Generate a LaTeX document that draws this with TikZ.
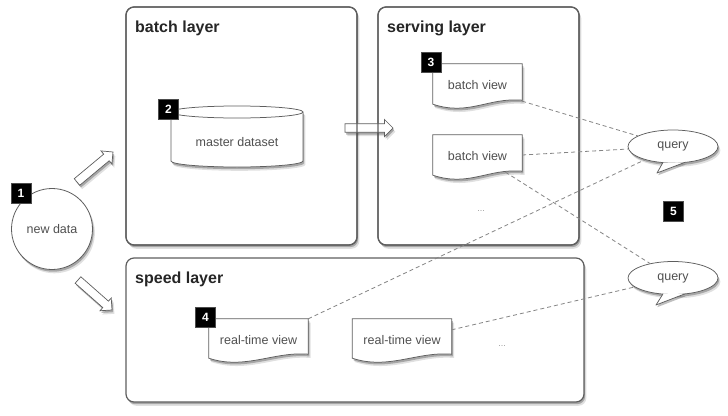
\documentclass[tikz,border=0pt]{standalone}
\usepackage{fontspec}
\setmainfont{Liberation Sans}
\usetikzlibrary{calc,shapes.geometric}
\definecolor{linegray}{HTML}{5E5E5E}
\definecolor{txtgray}{HTML}{505050}
\definecolor{dashgray}{HTML}{858585}
\tikzset{
  shadowed/.style={
    preaction={fill=black,opacity=0.12,transform canvas={shift={(2.4pt,-3.8pt)}}},
    preaction={fill=black,opacity=0.25,transform canvas={shift={(1.2pt,-2.2pt)}}}},
  layerbox/.style={draw=linegray, line width=1.2pt, rounded corners=8pt, fill=white, shadowed, inner sep=0, outer sep=0},
  layerborder/.style={draw=linegray, line width=1.2pt, rounded corners=8pt},
  layertitle/.style={anchor=base west, font=\fontsize{16}{19}\selectfont\bfseries, text=black!85, inner sep=0},
  shapeline/.style={draw=linegray, line width=0.75pt, fill=white, shadowed},
  lbl/.style={font=\fontsize{12.5}{15}\selectfont, text=txtgray},
  badge/.style={fill=black, draw=black!70, line width=0.4pt, minimum size=20pt, inner sep=0,
    font=\fontsize{12}{14}\selectfont\bfseries, text=white},
  link/.style={draw=dashgray, line width=0.8pt, dash pattern=on 4pt off 3pt},
  dots/.style={font=\fontsize{9}{10}\selectfont, text=black!40},
  docnode/.style={minimum width=89pt, minimum height=40pt, inner sep=0},
  rtnode/.style={minimum width=99pt, minimum height=39pt, inner sep=0},
  tailshadow/.style={fill=black,opacity=0.25,transform canvas={shift={(1.2pt,-2.2pt)}}},
}
\newcommand\myblockarrow[2]{%
  \coordinate (#2h) at ($(#2)!8.5pt!(#1)$);
  \draw[shapeline, line width=0.7pt]
    ($(#1)!4.3pt!90:(#2)$) -- ($(#2h)!4.3pt!90:(#2)$) -- ($(#2h)!8.5pt!90:(#2)$) -- (#2)
    -- ($(#2h)!8.5pt!-90:(#2)$) -- ($(#2h)!4.3pt!-90:(#2)$) -- ($(#1)!4.3pt!-90:(#2)$) -- cycle;
}
\newcommand\mydoc[1]{%
  \draw[shapeline] (#1.north west) -- (#1.north east) -- ($(#1.south east)+(0,-4)$)
    .. controls +(-34,-3) and +(36,12) .. (#1.south west) -- cycle;
}
\newcommand\myquery[3]{% name, center, tip
  \coordinate (#1c) at #2;
  \coordinate (#1tip) at #3;
  \coordinate (#1l) at ($(#1c)+(103:45 and 16.5)$);
  \coordinate (#1r) at ($(#1c)+(75:45 and 16.5)$);
  \fill[tailshadow] (#1l) -- (#1tip) -- (#1r) -- cycle;
  \draw[shapeline] (#1c) ellipse [x radius=45, y radius=16.5];
  \fill[white] (#1l) -- (#1tip) -- (#1r) -- cycle;
  \draw[linegray, line width=0.75pt, line join=round] (#1l) -- (#1tip) -- (#1r);
  \node[ellipse, minimum width=90pt, minimum height=33pt, inner sep=0, lbl] (#1) at (#1c) {query};
}
\begin{document}
\begin{tikzpicture}[x=1pt,y=-1pt]
\useasboundingbox[fill=white] (0,0) rectangle (728,415);

% layers
\node[layerbox, anchor=north west, minimum width=231pt, minimum height=238pt] (batch) at (126,7) {};
\node[layerbox, anchor=north west, minimum width=201pt, minimum height=238pt] (serving) at (378,7) {};
\node[layerbox, anchor=north west, minimum width=458pt, minimum height=144pt] (speed) at (126,258) {};
\node[layertitle] (tbatch) at (135,32) {batch layer};
\node[layertitle] (tserving) at (387,32) {serving layer};
\node[layertitle] (tspeed) at (135,283) {speed layer};

% new data
\node[circle, shapeline, line width=0.8pt, minimum size=81pt, inner sep=0, lbl] (new) at (52,229) {new data};
\node[badge] (b1) at (21,193) {1};

% master dataset cylinder
\path node[minimum width=132pt, minimum height=49pt, inner sep=0] (mdbox) at (237,136.5) {};
\draw[shapeline] (171,112) -- (171,161) arc[start angle=180, end angle=0, x radius=66, y radius=6]
  -- (303,112) arc[start angle=0, end angle=-180, x radius=66, y radius=6] -- cycle;
\draw[linegray, line width=0.75pt] (171,112) arc[start angle=180, end angle=0, x radius=66, y radius=6];
\node[lbl] (md) at (237,142) {master dataset};
\node[badge] (b2) at (168.5,109.5) {2};

% block arrows
\coordinate (a1s) at (77,182);  \coordinate (a1e) at (113,152);
\coordinate (a2s) at (78,280);  \coordinate (a2e) at (112,310);
\coordinate (a3s) at (345,128); \coordinate (a3e) at (393,128);
\myblockarrow{a1s}{a1e}
\myblockarrow{a2s}{a2e}
\myblockarrow{a3s}{a3e}
% layer borders show over the batch-to-serving arrow
\draw[layerborder] (batch.north west) rectangle (batch.south east);
\draw[layerborder] (serving.north west) rectangle (serving.south east);

% serving layer views
\path node[docnode] (bv1) at (477.5,84) {};
\mydoc{bv1}
\node[lbl] (bv1t) at ($(bv1.center)+(0,1)$) {batch view};
\node[badge] (b3) at (431,62.5) {3};
\path node[docnode] (bv2) at (477.5,155) {};
\mydoc{bv2}
\node[lbl] (bv2t) at ($(bv2.center)+(0,1)$) {batch view};
\node[dots] (dots1) at (481,211) {...};

% speed layer views
\path node[rtnode] (rt1) at (258.5,338.5) {};
\mydoc{rt1}
\node[lbl] (rt1t) at ($(rt1.center)+(0,1.5)$) {real-time view};
\node[badge] (b4) at (205.5,317) {4};
\path node[rtnode] (rt2) at (402,338.5) {};
\mydoc{rt2}
\node[lbl] (rt2t) at ($(rt2.center)+(0,1.5)$) {real-time view};
\node[dots] (dots2) at (502,346) {...};

% queries
\myquery{q1}{(673,146.5)}{(657,173)}
\myquery{q2}{(673,278)}{(656,305)}
\node[badge] (b5) at (673.5,211.5) {5};

% dashed links
\draw[link] ($(bv1.south east)+(0,-3)$) -- (q1);
\draw[link] (bv2.east) -- (q1);
\draw[link] ($(bv2.south)+(28,-3)$) -- (q2);
\draw[link] (rt1.north east) -- (q1);
\draw[link] ($(rt2.north east)+(0,11)$) -- (q2);
\end{tikzpicture}
\end{document}
